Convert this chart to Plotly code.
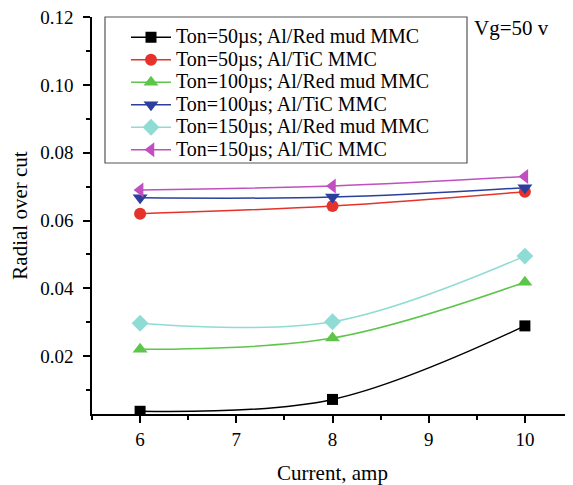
import plotly.graph_objects as go

current = [6, 8, 10]
names = [
    "Ton=50µs; Al/Red mud MMC",
    "Ton=50µs; Al/TiC MMC",
    "Ton=100µs; Al/Red mud MMC",
    "Ton=100µs; Al/TiC MMC",
    "Ton=150µs; Al/Red mud MMC",
    "Ton=150µs; Al/TiC MMC",
]
ton50_redmud = [0.0037, 0.0072, 0.0289]
ton50_tic = [0.0620, 0.0643, 0.0685]
ton100_redmud = [0.0220, 0.0253, 0.0418]
ton100_tic = [0.0667, 0.0669, 0.0697]
ton150_redmud = [0.0297, 0.0301, 0.0495]
ton150_tic = [0.0690, 0.0702, 0.0730]
y_ticks = [0.02, 0.04, 0.06, 0.08, 0.10, 0.12]
y_tick_text = ["0.02", "0.04", "0.06", "0.08", "0.10", "0.12"]
x_ticks = [6, 7, 8, 9, 10]

series = [ton50_redmud, ton50_tic, ton100_redmud, ton100_tic, ton150_redmud, ton150_tic]
colors = ["#000000", "#e5322a", "#5cc64b", "#2b3f9e", "#8fdcd4", "#c050c0"]
symbols = ["square", "circle", "triangle-up", "triangle-down", "diamond", "triangle-left"]
sizes = [11, 12, 13, 13, 13, 13]

font = "Liberation Serif"

# page body has an 8px margin; figure is placed at (8, 8)
W, H = 565, 477
L, T = 84, 9
PW, PH = 481, 397
B = H - T - PH
R = W - L - PW

def px_x(x):  # page pixel -> paper x
    return (x - 8 - L) / PW

def px_y(y):  # page pixel -> paper y
    return (T + PH - (y - 8)) / PH

fig = go.Figure()
for n, s, c, sym, sz in zip(names, series, colors, symbols, sizes):
    fig.add_trace(go.Scatter(
        x=current, y=s,
        name='<span style="font-size:20px;font-family:Liberation Serif">' + n + '</span>',
        mode="lines+markers",
        line=dict(color=c, width=1.5, shape="spline", smoothing=1),
        marker=dict(symbol=sym, size=sz, color=c, line=dict(width=0)),
    ))

fig.update_layout(
    width=W, height=H,
    margin=dict(l=L, r=R, t=T, b=B),
    paper_bgcolor="white", plot_bgcolor="white",
    font=dict(family=font, size=19, color="black"),
    showlegend=True,
    legend=dict(
        x=px_x(126), y=px_y(21), xanchor="left", yanchor="top",
        bgcolor="rgba(0,0,0,0)", borderwidth=0,
        font=dict(family=font, size=15, color="black"),
        tracegroupgap=0, itemwidth=40,
    ),
    xaxis=dict(
        range=[5.5, 10.5], tickmode="array", tickvals=x_ticks,
        showgrid=False, zeroline=False, automargin=False,
        showline=True, linecolor="black", linewidth=1.5,
        ticks="outside", ticklen=7, tickwidth=1.5, tickcolor="black",
        minor=dict(tickvals=[5.5, 6.5, 7.5, 8.5, 9.5, 10.5], ticks="outside", ticklen=4, tickwidth=1.5, tickcolor="black"),
        tickfont=dict(family=font, size=19),
        title=dict(text="Current, amp", font=dict(family=font, size=21), standoff=20),
    ),
    yaxis=dict(
        range=[0.0029, 0.12005], tickmode="array",
        tickvals=y_ticks, ticktext=y_tick_text,
        showgrid=False, zeroline=False, automargin=False,
        showline=True, linecolor="black", linewidth=1.5,
        ticks="outside", ticklen=7, tickwidth=1.5, tickcolor="black",
        minor=dict(tickvals=[0.01, 0.03, 0.05, 0.07, 0.09, 0.11], ticks="outside", ticklen=4, tickwidth=1.5, tickcolor="black"),
        tickfont=dict(family=font, size=19),
        ticklabelstandoff=6, ticklabeloverflow="allow",
        title=dict(text="Radial over cut", font=dict(family=font, size=21), standoff=14),
    ),
    shapes=[dict(
        type="rect", xref="paper", yref="paper",
        x0=px_x(105), x1=px_x(467),
        y0=px_y(163), y1=px_y(17),
        line=dict(color="#555555", width=1.2), fillcolor="rgba(0,0,0,0)",
    )],
    annotations=[dict(
        text="Vg=50 v", xref="paper", yref="paper",
        x=px_x(472), y=px_y(28), xanchor="left", yanchor="middle",
        showarrow=False, font=dict(family=font, size=21, color="black"),
    )],
)

fig.write_html("out.html")
